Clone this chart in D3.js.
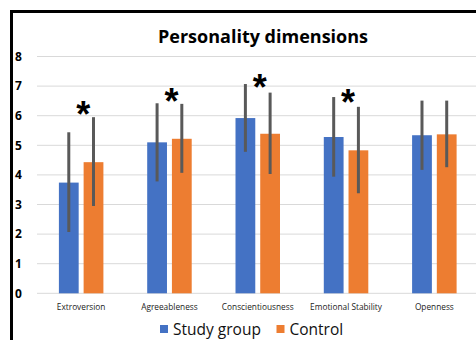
<!DOCTYPE html>
<html>
<head>
<meta charset="utf-8">
<script src="https://cdn.jsdelivr.net/npm/d3@7"></script>
<style>
  body { margin: 0; background: #fff; }
  svg { display: block; font-family: 'Open Sans', sans-serif; }
</style>
</head>
<body>
<div id="chart"></div>
<script>
// values
const categories = ['Extroversion', 'Agreeableness', 'Conscientiousness', 'Emotional Stability', 'Openness']
const seriesNames = ['Study group', 'Control']
const studyMeans = [3.74, 5.10, 5.92, 5.28, 5.34]
const studyLow   = [2.07, 3.78, 4.78, 3.94, 4.17]
const studyHigh  = [5.44, 6.42, 7.07, 6.63, 6.51]
const controlMeans = [4.43, 5.22, 5.39, 4.83, 5.37]
const controlLow   = [2.95, 4.07, 4.03, 3.38, 4.26]
const controlHigh  = [5.95, 6.40, 6.78, 6.30, 6.51]
// asterisk marks (significance) by category, with the height they stand at
const sigCategories = ['Extroversion', 'Agreeableness', 'Conscientiousness', 'Emotional Stability']
const sigLevels = [6.29, 6.73, 7.22, 6.72]
const yTicks = [0, 1, 2, 3, 4, 5, 6, 7, 8]

const colors = ['#4472C4', '#ED7D31']

const width = 476
const height = 340

const rows = []
categories.forEach((c, i) => {
    rows.push({cat: c, series: seriesNames[0], mean: studyMeans[i], lo: studyLow[i], hi: studyHigh[i]})
    rows.push({cat: c, series: seriesNames[1], mean: controlMeans[i], lo: controlLow[i], hi: controlHigh[i]})
})

const svg = d3.select('#chart')
    .append('svg')
    .attr('width', width)
    .attr('height', height)

const x0 = d3.scaleBand()
    .domain(categories)
    .range([37, 478.5])
    .paddingInner(0.496)
    .paddingOuter(0.248)

const x1 = d3.scaleBand()
    .domain(seriesNames)
    .range([0, x0.bandwidth()])
    .paddingInner(0.2)

const y = d3.scaleLinear()
    .domain([0, 8])
    .range([293.3, 56.5])

const color = d3.scaleOrdinal(seriesNames, colors)

// gridlines
svg.append('g')
    .selectAll('line')
    .data(yTicks)
    .join('line')
    .attr('x1', 37)
    .attr('x2', width)
    .attr('y1', d => y(d))
    .attr('y2', d => y(d))
    .attr('stroke', '#d9d9d9')
    .attr('stroke-width', 1)

// y tick labels
svg.append('g')
    .selectAll('text')
    .data(yTicks)
    .join('text')
    .attr('x', 15)
    .attr('y', d => y(d))
    .attr('dy', '0.36em')
    .attr('font-size', 12)
    .attr('font-weight', 'bold')
    .text(d => d)

// bars
svg.append('g')
    .selectAll('rect')
    .data(rows)
    .join('rect')
    .attr('x', d => x0(d.cat) + x1(d.series))
    .attr('y', d => y(d.mean))
    .attr('width', x1.bandwidth())
    .attr('height', d => y(0) - y(d.mean))
    .attr('fill', d => color(d.series))

// error bars
svg.append('g')
    .selectAll('line')
    .data(rows)
    .join('line')
    .attr('x1', d => x0(d.cat) + x1(d.series) + x1.bandwidth() / 2)
    .attr('x2', d => x0(d.cat) + x1(d.series) + x1.bandwidth() / 2)
    .attr('y1', d => y(d.lo))
    .attr('y2', d => y(d.hi))
    .attr('stroke', '#595959')
    .attr('stroke-width', 3)

// asterisks
svg.append('g')
    .selectAll('text')
    .data(sigCategories)
    .join('text')
    .attr('x', d => x0(d) + x0.bandwidth() / 2 + 2)
    .attr('y', (d, i) => y(sigLevels[i]))
    .attr('dy', '0.56em')
    .attr('text-anchor', 'middle')
    .attr('font-family', 'Liberation Sans, sans-serif')
    .attr('font-weight', 'bold')
    .attr('font-size', 36)
    .text('*')

// category labels
svg.append('g')
    .selectAll('text')
    .data(categories)
    .join('text')
    .attr('x', d => x0(d) + x0.bandwidth() / 2)
    .attr('y', 309.5)
    .attr('text-anchor', 'middle')
    .attr('font-size', 8.3)
    .attr('fill', '#222')
    .text(d => d)

// title
svg.append('text')
    .attr('x', 263)
    .attr('y', 42.5)
    .attr('text-anchor', 'middle')
    .attr('font-size', 18)
    .attr('font-weight', 'bold')
    .text('Personality dimensions')

// legend
const legendX = [160, 276.5]
const legend = svg.append('g')
    .selectAll('g')
    .data(seriesNames)
    .join('g')
    .attr('transform', (d, i) => `translate(${legendX[i]}, 325)`)

legend.append('rect')
    .attr('width', 8)
    .attr('height', 8)
    .attr('fill', d => color(d))

legend.append('text')
    .attr('x', 13)
    .attr('y', 9.5)
    .attr('font-size', 15.5)
    .attr('fill', '#111')
    .text(d => d)

// outer frame
svg.append('rect')
    .attr('x', 11.5)
    .attr('y', 11.5)
    .attr('width', 600)
    .attr('height', 600)
    .attr('fill', 'none')
    .attr('stroke', '#000')
    .attr('stroke-width', 3)
</script>
</body>
</html>
